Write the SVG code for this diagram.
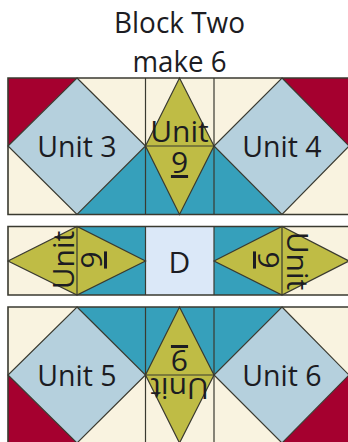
<svg xmlns="http://www.w3.org/2000/svg" width="348" height="442" viewBox="0 0 348 442">
<style>
.s{stroke:#3a3a30;stroke-width:1.2;stroke-linejoin:miter}
.f{stroke:#3a3a30;stroke-width:1.6;fill:none}
.c{fill:#f9f3e0}.r{fill:#a5002f}.b{fill:#b5d0dd}.t{fill:#36a0bb}.o{fill:#bfbc45}.d{fill:#dbe8f8}
text{font-family:"Open Sans","Noto Sans",sans-serif;fill:#1c1c22;text-anchor:middle}
.l{font-size:28.500px}
.u{font-size:30px}
.h{font-size:29px}
.n{fill:none}
</style>
<rect width="348" height="442" fill="#fff"/>
<g id="title">
<text class="h" x="179.500" y="33" textLength="131" lengthAdjust="spacingAndGlyphs">Block Two</text>
<text class="h" x="179.500" y="71.500" textLength="94" lengthAdjust="spacingAndGlyphs">make 6</text>
</g>
<g id="row1">
<rect class="c" x="8" y="78" width="345" height="136.500"/>
<path class="r" d="M8 78H77L8 146Z"/>
<path class="r" d="M282 78H353V147H349Z"/>
<path class="t" d="M77 214.500L145.500 146H214L282 214.500Z"/>
<path class="b s" d="M77 78L145.500 146L77 214.500L8 146Z"/>
<path class="b s" d="M282 78L349 146L282 214.500L214 146Z"/>
<path class="o s" d="M179.500 78L214 146L179.500 214.500L145.500 146Z"/>
<path class="s n" d="M145.500 78V214.500M214 78V214.500M145.500 146H214"/>
<path class="f" d="M353 78H8V214.500H353"/>
<text class="l" x="77" y="157">Unit 3</text>
<text class="l" x="282" y="157">Unit 4</text>
<text class="u"><tspan x="179.500" y="142">Unit</tspan><tspan x="179.500" y="173" text-decoration="underline">9</tspan></text>
</g>
<g id="row2">
<rect class="c" x="8" y="226.500" width="345" height="68.500"/>
<path class="t" d="M77 226.500H282V295H77Z"/>
<rect class="d" x="145.500" y="226.500" width="68.500" height="68.500"/>
<path class="o s" d="M8 261L77 226.500L145.500 261L77 295Z"/>
<path class="o s" d="M214 261L282 226.500L349 261L282 295Z"/>
<path class="s n" d="M77 226.500V295M282 226.500V295M145.500 226.500V295M214 226.500V295"/>
<path class="f" d="M353 226.500H8V295H353"/>
<text class="u" transform="translate(74 260) rotate(-90)">Unit</text>
<text class="u" transform="translate(102 260) rotate(-90)" text-decoration="underline">9</text>
<text class="u" transform="translate(287 261) rotate(90)">Unit</text>
<text class="u" transform="translate(258 260) rotate(90)" text-decoration="underline">9</text>
<text class="u" x="179.500" y="273">D</text>
</g>
<g id="row3">
<rect class="c" x="8" y="307" width="345" height="137"/>
<path class="r" d="M8 375L77 443H8Z"/>
<path class="r" d="M349 375L282 443H353V375Z"/>
<path class="t" d="M77 307H282L214 375H145.500Z"/>
<path class="b s" d="M77 307L145.500 375L77 443L8 375Z"/>
<path class="b s" d="M282 307L349 375L282 443L214 375Z"/>
<path class="o s" d="M179.500 307L214 375L179.500 443L145.500 375Z"/>
<path class="s n" d="M145.500 307V443M214 307V443M145.500 375H214"/>
<path class="f" d="M353 307H8V443"/>
<text class="l" x="77" y="386">Unit 5</text>
<text class="l" x="282" y="386">Unit 6</text>
<text class="u" transform="translate(179.500 378) rotate(180)">Unit</text>
<text class="u" transform="translate(179.500 350) rotate(180)" text-decoration="underline">9</text>
</g>
</svg>
